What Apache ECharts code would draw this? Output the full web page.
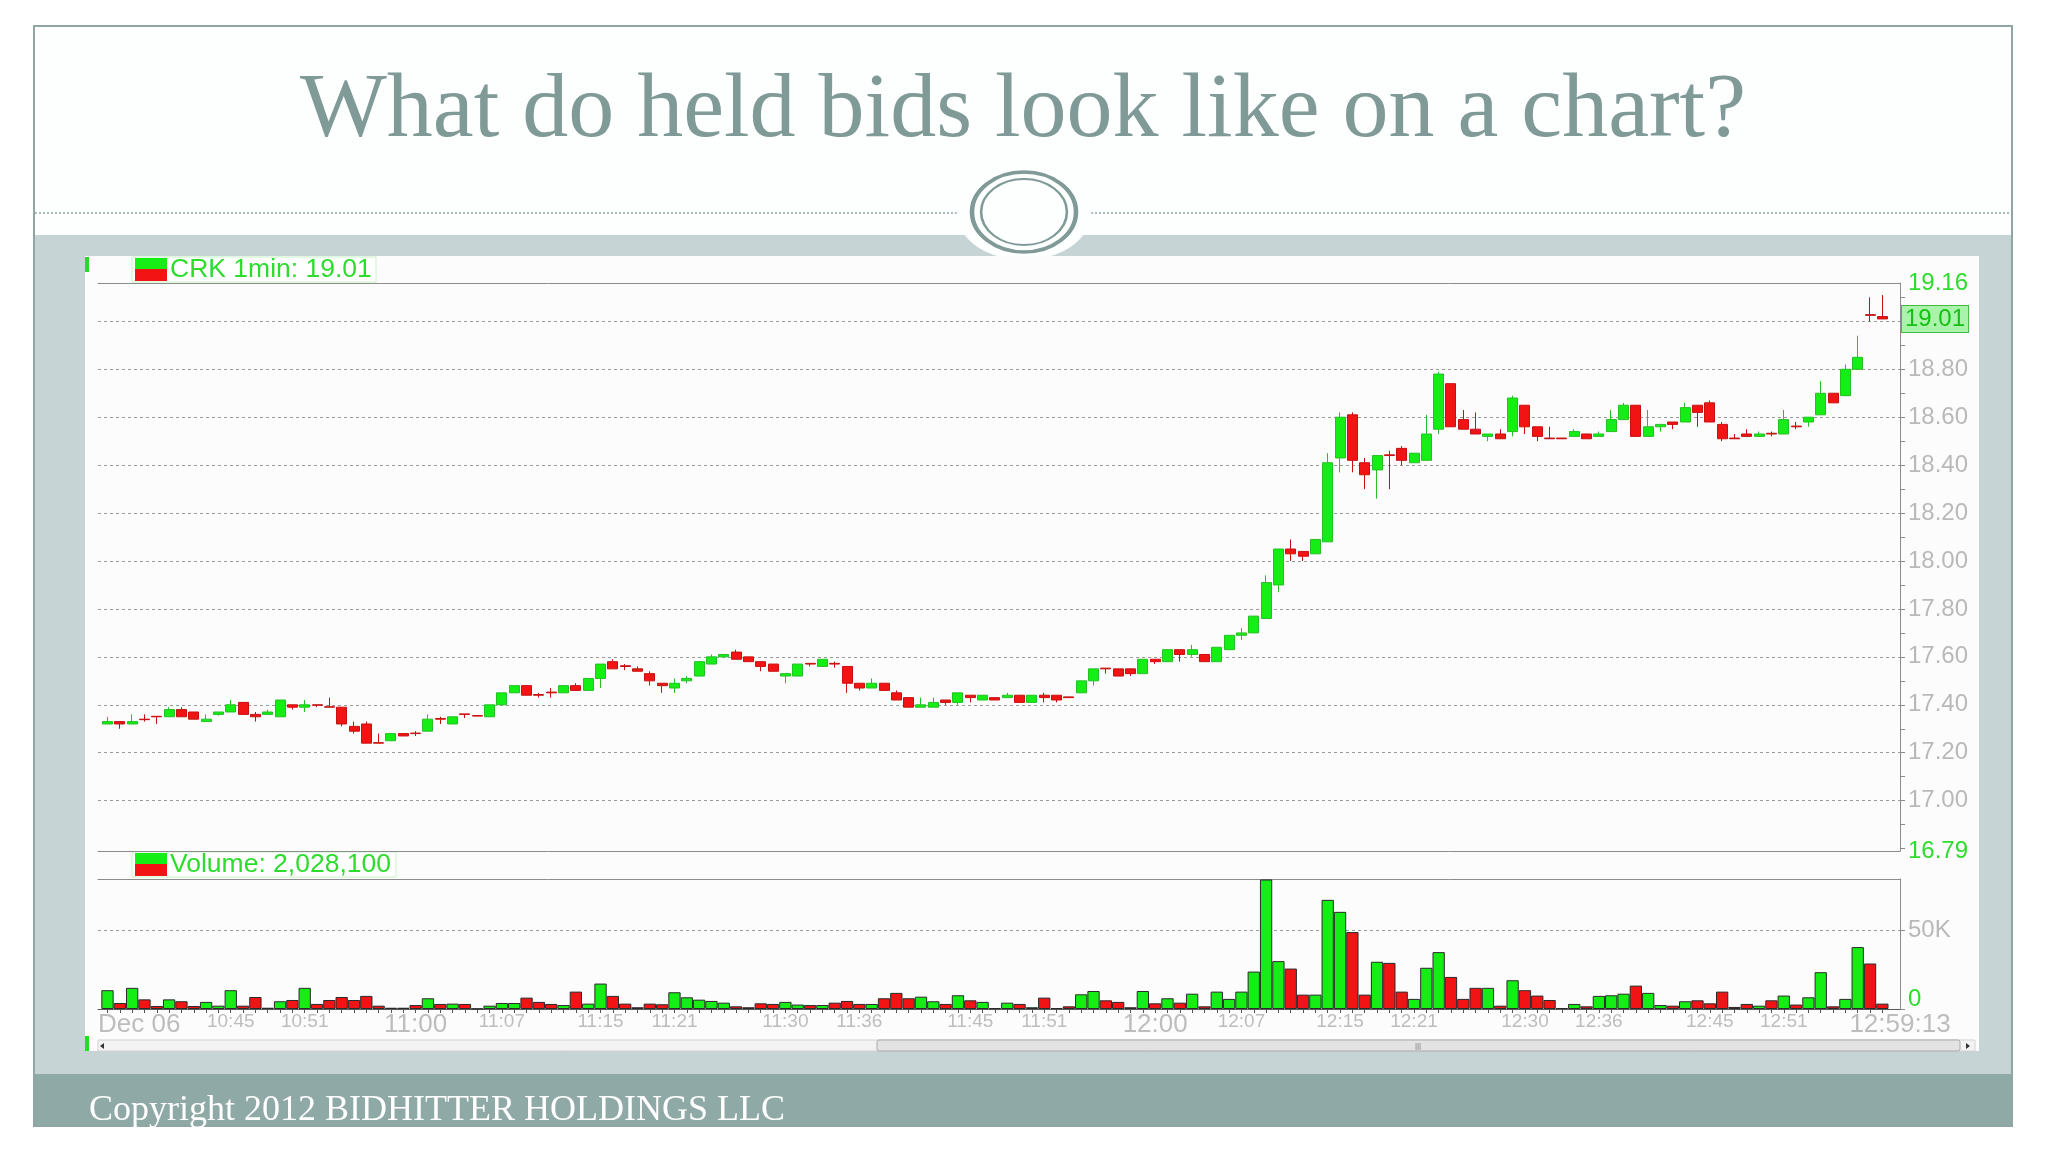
<!DOCTYPE html>
<html><head><meta charset="utf-8">
<script src="https://cdn.jsdelivr.net/npm/echarts@6/dist/echarts.min.js"></script>
<style>html,body{margin:0;padding:0;background:#fff}#c{width:2048px;height:1152px}</style>
</head><body><div id="c"></div>
<script>
// ---------- DATA ----------
const times = [];
for (let m = 10 * 60 + 35; m <= 12 * 60 + 59; m++) times.push(Math.floor(m / 60) + ':' + String(m % 60).padStart(2, '0'));

const open = [
 17.32,17.33,17.32,17.34,17.352,17.35,17.38,17.37,17.33,17.36,
 17.37,17.41,17.36,17.36,17.35,17.40,17.39,17.40,17.392,17.39,
 17.31,17.32,17.242,17.25,17.28,17.282,17.29,17.343,17.32,17.362,
 17.355,17.35,17.40,17.45,17.48,17.443,17.453,17.45,17.48,17.46,
 17.51,17.58,17.563,17.55,17.53,17.49,17.47,17.50,17.52,17.57,
 17.60,17.62,17.60,17.58,17.57,17.52,17.52,17.573,17.56,17.573,
 17.56,17.49,17.47,17.49,17.45,17.43,17.39,17.39,17.42,17.41,
 17.44,17.42,17.43,17.43,17.44,17.41,17.44,17.44,17.433,17.45,
 17.50,17.553,17.55,17.55,17.53,17.59,17.58,17.63,17.61,17.61,
 17.58,17.63,17.69,17.70,17.76,17.90,18.05,18.04,18.03,18.08,
 18.43,18.61,18.41,18.38,18.443,18.47,18.41,18.42,18.55,18.74,
 18.59,18.55,18.52,18.53,18.54,18.65,18.56,18.513,18.513,18.52,
 18.53,18.52,18.54,18.59,18.65,18.52,18.56,18.58,18.58,18.65,
 18.66,18.57,18.513,18.53,18.52,18.533,18.53,18.563,18.58,18.61,
 18.70,18.69,18.80,19.028,19.02];
const close = [
 17.33,17.32,17.33,17.338,17.35,17.38,17.35,17.34,17.34,17.37,
 17.40,17.36,17.35,17.37,17.42,17.39,17.40,17.398,17.39,17.32,
 17.29,17.24,17.24,17.28,17.27,17.28,17.34,17.34,17.35,17.36,
 17.353,17.40,17.45,17.48,17.44,17.44,17.45,17.48,17.46,17.51,
 17.57,17.55,17.56,17.54,17.50,17.48,17.49,17.51,17.58,17.60,
 17.61,17.59,17.58,17.56,17.54,17.53,17.57,17.57,17.59,17.57,
 17.49,17.47,17.49,17.46,17.42,17.39,17.40,17.41,17.41,17.45,
 17.43,17.44,17.42,17.44,17.41,17.44,17.43,17.42,17.43,17.50,
 17.55,17.55,17.52,17.53,17.59,17.58,17.63,17.61,17.63,17.58,
 17.64,17.69,17.70,17.77,17.91,18.05,18.03,18.02,18.09,18.41,
 18.60,18.42,18.36,18.44,18.44,18.42,18.45,18.53,18.78,18.56,
 18.55,18.53,18.53,18.51,18.68,18.56,18.52,18.51,18.51,18.54,
 18.51,18.53,18.59,18.65,18.52,18.56,18.57,18.57,18.64,18.62,
 18.58,18.51,18.51,18.52,18.53,18.53,18.59,18.56,18.60,18.70,
 18.66,18.80,18.85,19.025,19.01];
const low = [
 17.32,17.30,17.32,17.33,17.32,17.35,17.35,17.34,17.33,17.355,
 17.37,17.36,17.33,17.36,17.35,17.38,17.37,17.39,17.39,17.31,
 17.28,17.24,17.24,17.25,17.27,17.27,17.29,17.32,17.32,17.345,
 17.353,17.35,17.40,17.45,17.44,17.43,17.43,17.45,17.46,17.46,
 17.47,17.55,17.545,17.54,17.48,17.45,17.45,17.49,17.52,17.57,
 17.60,17.59,17.58,17.54,17.54,17.49,17.52,17.56,17.56,17.555,
 17.45,17.46,17.47,17.46,17.42,17.39,17.39,17.39,17.40,17.40,
 17.41,17.42,17.42,17.43,17.41,17.41,17.41,17.41,17.43,17.45,
 17.48,17.53,17.52,17.52,17.53,17.57,17.58,17.58,17.60,17.58,
 17.58,17.63,17.67,17.70,17.76,17.87,18.00,18.00,18.03,18.08,
 18.37,18.37,18.30,18.26,18.30,18.40,18.41,18.42,18.53,18.56,
 18.55,18.53,18.50,18.51,18.52,18.53,18.50,18.51,18.51,18.52,
 18.51,18.52,18.54,18.59,18.52,18.52,18.54,18.55,18.58,18.56,
 18.58,18.50,18.51,18.52,18.52,18.52,18.53,18.55,18.56,18.61,
 18.66,18.69,18.80,19.00,19.01];
const high = [
 17.35,17.33,17.36,17.36,17.352,17.39,17.39,17.37,17.36,17.37,
 17.42,17.41,17.37,17.38,17.42,17.40,17.42,17.40,17.43,17.39,
 17.33,17.33,17.28,17.28,17.28,17.29,17.36,17.35,17.35,17.362,
 17.355,17.40,17.45,17.48,17.48,17.45,17.47,17.48,17.49,17.51,
 17.57,17.59,17.57,17.56,17.54,17.49,17.51,17.52,17.58,17.61,
 17.61,17.63,17.60,17.58,17.57,17.53,17.57,17.573,17.59,17.58,
 17.56,17.49,17.51,17.49,17.46,17.43,17.43,17.43,17.42,17.45,
 17.44,17.44,17.43,17.45,17.44,17.44,17.45,17.44,17.433,17.50,
 17.55,17.553,17.55,17.55,17.59,17.59,17.63,17.63,17.65,17.61,
 17.64,17.69,17.72,17.77,17.94,18.05,18.09,18.04,18.09,18.45,
 18.62,18.62,18.43,18.44,18.46,18.48,18.45,18.61,18.79,18.74,
 18.63,18.62,18.53,18.55,18.69,18.65,18.56,18.56,18.513,18.55,
 18.53,18.54,18.63,18.66,18.65,18.63,18.57,18.58,18.66,18.65,
 18.67,18.58,18.53,18.55,18.54,18.54,18.63,18.58,18.60,18.75,
 18.70,18.82,18.94,19.10,19.11];
const volume = [
 11900,3800,13400,6100,1900,6100,4900,1900,4500,2100,
 11900,2100,7600,800,4900,5700,13400,3200,5700,7600,
 5700,8300,2100,800,800,2500,6800,3200,3400,3200,
 200,2100,3800,3800,7200,4500,3200,2500,11000,3400,
 16100,8300,3400,1100,3400,3000,10600,7400,5900,5100,
 4000,1700,1100,3600,3200,4500,2800,2500,2500,4000,
 5100,3200,3200,6800,10200,6800,7800,4900,3200,8700,
 5500,4500,600,4000,3200,1100,7200,600,1700,9300,
 11400,5500,4500,1100,11400,3600,6800,4000,9700,1700,
 11000,6400,11000,23700,82000,30300,25600,9100,9100,69100,
 61500,48700,9100,29900,29200,11000,6400,26100,36000,20300,
 6400,13400,13400,2100,18200,11900,8500,5700,600,3200,
 1700,8300,8700,9700,14800,10200,2500,2100,4900,5500,
 3600,11000,1300,3200,2100,5500,8500,2800,7400,23300,
 1700,6400,39200,28800,3400];

const priceGridValues = [17.0,17.2,17.4,17.6,17.8,18.0,18.2,18.4,18.6,18.8,19.0];
const priceLabelValues = [16.79,17.00,17.20,17.40,17.60,17.80,18.00,18.20,18.40,18.60,18.80,19.16];
const priceTickValues = [16.8,16.9,17.0,17.1,17.2,17.3,17.4,17.5,17.6,17.7,17.8,17.9,18.0,18.1,18.2,18.3,18.4,18.5,18.6,18.7,18.8,18.9,19.0,19.1];
const priceMin = 16.79, priceMax = 19.16;
const volLabelValues = [0, 50000];
const volMax = 82300;
const xLabelTimes = ['10:45','10:51','11:00','11:07','11:15','11:21','11:30','11:36','11:45','11:51','12:00','12:07','12:15','12:21','12:30','12:36','12:45','12:51'];
const bigLabelTimes = ['11:00','12:00'];
const dateLabel = 'Dec 06';
const lastTimeLabel = '12:59:13';
const symbolLabel = 'CRK 1min: ';
const volumeLabel = 'Volume: 2,028,100';
const titleText = 'What do held bids look like on a chart?';
const copyrightText = 'Copyright 2012 BIDHITTER HOLDINGS LLC';

// ---------- BUILD ----------
const GREEN = '#14ee14', RED = '#f21414';
const xMin = -0.77, xMax = 145.43;
const candleData = times.map((t, i) => [i, open[i], close[i], low[i], high[i]]);
const volData = times.map((t, i) => ({ value: [i, volume[i]], itemStyle: { color: close[i] >= open[i] ? GREEN : RED } }));
const lastClose = close[close.length - 1];
const tickIdx = times.map((t, i) => i);
const xLabelValues = [xMin].concat(xLabelTimes.map(t => times.indexOf(t))).concat([xMax]);
const labelFont = '"Liberation Sans", Arial, sans-serif';
const greenText = '#2edc2e';
const grayText = '#b9b9b9';

function xFmt(v) {
  if (Math.abs(v - xMin) < 1e-6) return '{b|' + dateLabel + '}';
  if (Math.abs(v - xMax) < 1e-6) return '{e|' + lastTimeLabel + '}';
  const t = times[Math.round(v)];
  return bigLabelTimes.indexOf(t) >= 0 ? '{b|' + t + '}' : '{s|' + t + '}';
}
function isEdgePrice(v) { v = parseFloat(v); return Math.abs(v - priceMin) < 1e-6 || Math.abs(v - priceMax) < 1e-6; }

const hiddenX = (grid, pos) => ({
  type: 'value', gridIndex: grid, min: xMin, max: xMax, position: pos,
  axisLine: { show: true, onZero: false, lineStyle: { color: '#8c8c8c', width: 1 } },
  axisTick: { show: false }, axisLabel: { show: false }, splitLine: { show: false }
});

const headerBox = (y, text, w) => ({
  type: 'group', z: 50, children: [
    { type: 'rect', shape: { x: 132, y: y, width: w, height: 25 }, style: { fill: '#ffffff', stroke: '#c6f3c6', lineWidth: 1 } },
    { type: 'rect', shape: { x: 135, y: y + 1, width: 32, height: 12 }, style: { fill: GREEN } },
    { type: 'rect', shape: { x: 135, y: y + 12, width: 32, height: 12 }, style: { fill: RED } },
    { type: 'text', style: { x: 170, y: y + 13, text: text, fill: greenText, font: '26.5px ' + labelFont, verticalAlign: 'middle', align: 'left' } }
  ]
});

const option = {
  animation: false,
  backgroundColor: '#ffffff',
  graphic: { elements: [
    { type: 'rect', z: -30, shape: { x: 34, y: 26, width: 1978, height: 1100 }, style: { fill: '#fdfefe', stroke: '#8fa6a4', lineWidth: 2 } },
    { type: 'rect', z: -29, shape: { x: 35, y: 235, width: 1976, height: 839 }, style: { fill: '#c6d4d6' } },
    { type: 'rect', z: -29, shape: { x: 35, y: 1074, width: 1976, height: 51 }, style: { fill: '#8fa9a7' } },
    { type: 'line', z: -28, shape: { x1: 35, y1: 213, x2: 2011, y2: 213 }, style: { stroke: '#8fa6a4', lineWidth: 1.5, lineDash: [2, 2] } },
    { type: 'circle', z: -27, x: 1024, y: 213, scaleX: 1.43, shape: { cx: 0, cy: 0, r: 47 }, style: { fill: '#fdfefe' } },
    { type: 'circle', z: -26, x: 1024, y: 212, scaleX: 1.3, shape: { cx: 0, cy: 0, r: 40 }, style: { fill: 'none', stroke: '#7f9a97', lineWidth: 3.5, strokeNoScale: true } },
    { type: 'circle', z: -26, x: 1024, y: 212, scaleX: 1.3, shape: { cx: 0, cy: 0, r: 33 }, style: { fill: 'none', stroke: '#7f9a97', lineWidth: 2, strokeNoScale: true } },
    { type: 'rect', z: -25, shape: { x: 85, y: 256, width: 1894, height: 795 }, style: { fill: '#fcfcfd' } },
    { type: 'text', z: 50, style: { x: 1023, y: 112, text: titleText, fill: '#7f9a97', font: '92px "Liberation Serif", "Times New Roman", serif', align: 'center', verticalAlign: 'middle' } },
    { type: 'text', z: 50, style: { x: 89, y: 1111, text: copyrightText, fill: '#ffffff', font: '36px "Liberation Serif", "Times New Roman", serif', align: 'left', verticalAlign: 'middle' } },
    headerBox(257, symbolLabel + lastClose.toFixed(2), 244),
    headerBox(852, volumeLabel, 264),
    { type: 'rect', z: 50, shape: { x: 85, y: 257, width: 4, height: 15 }, style: { fill: '#22dd22' } },
    { type: 'rect', z: 50, shape: { x: 85, y: 1036, width: 4, height: 15 }, style: { fill: '#22dd22' } },
    { type: 'rect', z: 40, shape: { x: 98, y: 1040, width: 1877, height: 11 }, style: { fill: '#f3f3f3', stroke: '#d2d2d2', lineWidth: 1 } },
    { type: 'rect', z: 41, shape: { x: 877, y: 1040, width: 1083, height: 11, r: 2 }, style: { fill: '#e3e3e3', stroke: '#a9a9a9', lineWidth: 1 } },
    { type: 'text', z: 42, style: { x: 1418, y: 1046, text: '|||', fill: '#777', font: '8px sans-serif', align: 'center', verticalAlign: 'middle' } },
    { type: 'polygon', z: 42, shape: { points: [[1966, 1043], [1966, 1049], [1970, 1046]] }, style: { fill: '#333' } },
    { type: 'polygon', z: 42, shape: { points: [[104, 1043], [104, 1049], [100, 1046]] }, style: { fill: '#333' } }
  ] },
  grid: [
    { left: 98, top: 283, width: 1802, height: 568 },
    { left: 98, top: 879, width: 1802, height: 130 }
  ],
  xAxis: [
    hiddenX(0, 'bottom'),
    hiddenX(0, 'top'),
    {
      type: 'value', gridIndex: 1, min: xMin, max: xMax, position: 'bottom',
      axisLine: { show: true, onZero: false, lineStyle: { color: '#5a5a5a', width: 1 } },
      axisTick: { show: true, customValues: tickIdx, length: 4, lineStyle: { color: '#555' } },
      axisLabel: {
        show: true, customValues: xLabelValues, formatter: xFmt, margin: 3,
        alignMinLabel: 'left', alignMaxLabel: 'center',
        rich: {
          s: { fontSize: 19, color: '#bdbdbd', fontFamily: labelFont },
          b: { fontSize: 26, color: '#bdbdbd', fontFamily: labelFont },
          e: { fontSize: 26, color: '#bdbdbd', fontFamily: labelFont }
        }
      },
      splitLine: { show: false }
    },
    hiddenX(1, 'top')
  ],
  yAxis: [
    {
      type: 'value', gridIndex: 0, position: 'right', min: priceMin, max: priceMax, scale: true,
      axisLine: { show: true, onZero: false, lineStyle: { color: '#8c8c8c' } },
      axisTick: { show: true, customValues: priceTickValues, length: 5, lineStyle: { color: '#8c8c8c' } },
      axisLabel: {
        show: true, customValues: priceLabelValues, margin: 8, fontSize: 24, fontFamily: labelFont,
        formatter: v => Number(v).toFixed(2),
        color: v => isEdgePrice(v) ? greenText : grayText
      },
      splitLine: { show: false }
    },
    {
      type: 'value', gridIndex: 1, position: 'right', min: 0, max: volMax,
      axisLine: { show: true, onZero: false, lineStyle: { color: '#8c8c8c' } },
      axisTick: { show: true, customValues: volLabelValues, length: 5, lineStyle: { color: '#8c8c8c' } },
      axisLabel: {
        show: true, customValues: volLabelValues, margin: 8, fontSize: 24, fontFamily: labelFont, color: grayText,
        formatter: v => Number(v) === 0 ? '{z|0}' : Math.round(v / 1000) + 'K',
        rich: { z: { color: greenText, fontSize: 24, fontFamily: labelFont, padding: [0, 0, 20, 0] } }
      },
      splitLine: { show: false }
    }
  ],
  series: [
    {
      type: 'candlestick', xAxisIndex: 0, yAxisIndex: 0, data: candleData, barWidth: 10.5,
      itemStyle: { color: GREEN, color0: RED, borderColor: '#25c025', borderColor0: '#c81010', borderWidth: 1 },
      markLine: {
        silent: true, z: 1, symbol: ['none', 'none'], label: { show: false },
        lineStyle: { color: '#9a9a9a', type: [3, 3], width: 1 },
        data: priceGridValues.map(v => ({ yAxis: v })).concat([{
          yAxis: lastClose, lineStyle: { color: 'rgba(0,0,0,0)', width: 0 },
          label: { show: true, position: 'end', distance: 2, formatter: lastClose.toFixed(2), color: '#16c016', fontSize: 24, fontFamily: labelFont,
                   backgroundColor: '#aaf3aa', borderColor: '#45b845', borderWidth: 1, padding: [2, 3, 0, 3], opacity: 1 }
        }])
      }
    },
    {
      type: 'bar', xAxisIndex: 2, yAxisIndex: 1, data: volData, barWidth: 12.3,
      itemStyle: { borderColor: '#2a2a2a', borderWidth: 1 },
      markLine: {
        silent: true, z: 1, symbol: ['none', 'none'], label: { show: false },
        lineStyle: { color: '#9a9a9a', type: [3, 3], width: 1 },
        data: [{ yAxis: 50000 }]
      }
    }
  ]
};
const chart = echarts.init(document.getElementById('c'));
chart.setOption(option);
</script></body></html>
